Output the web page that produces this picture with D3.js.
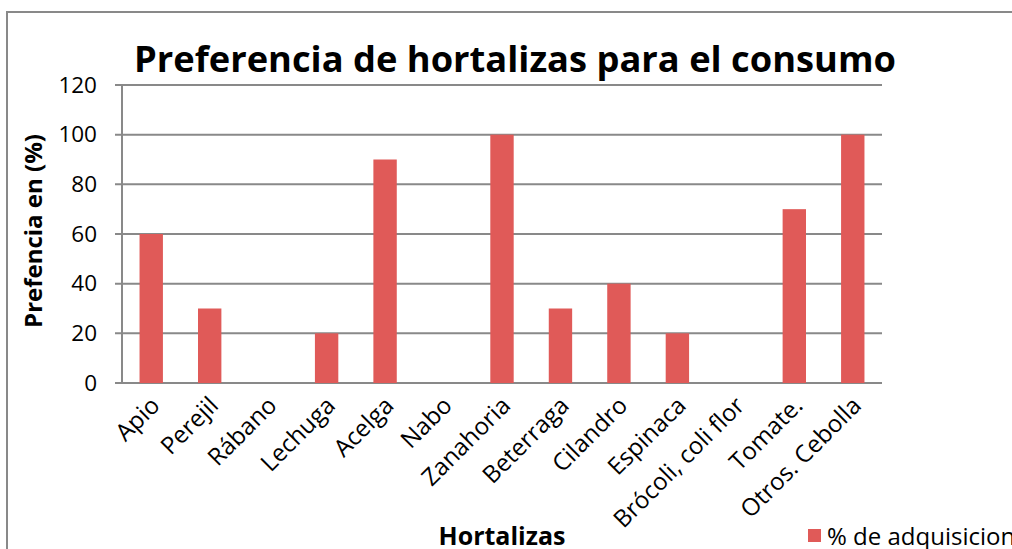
<!DOCTYPE html>
<html>
<head>
<meta charset="utf-8">
<script src="https://cdn.jsdelivr.net/npm/d3@7"></script>
<style>
  body { margin: 0; background: #fff; }
  svg { display: block; font-family: "Open Sans", sans-serif; }
</style>
</head>
<body>
<svg id="chart" width="1012" height="549"></svg>
<script>
const categories = ['Apio', 'Perejil', 'Rábano', 'Lechuga', 'Acelga', 'Nabo', 'Zanahoria',
  'Beterraga', 'Cilandro', 'Espinaca', 'Brócoli, coli flor', 'Tomate.', 'Otros. Cebolla'];
const values = [60, 30, 0, 20, 90, 0, 100, 30, 40, 20, 0, 70, 100];
const yTicks = [0, 20, 40, 60, 80, 100, 120];
const seriesName = '% de adquisicion';

const svg = d3.select('#chart');
const margin = { left: 122, right: 130, top: 85, bottom: 166 };
const width = 1012, height = 549;
const barColor = '#e05a58';
const gridColor = '#898989';

// outer frame
svg.append('rect')
  .attr('x', 7).attr('y', 12)
  .attr('width', width + 20).attr('height', height + 20)
  .attr('fill', 'none').attr('stroke', gridColor).attr('stroke-width', 2);

const x = d3.scaleBand()
  .domain(categories)
  .range([margin.left, width - margin.right])
  .paddingInner(0.6).paddingOuter(0.3);

const y = d3.scaleLinear()
  .domain([0, 120])
  .range([height - margin.bottom, margin.top]);

// gridlines
svg.append('g')
  .selectAll('line')
  .data(yTicks)
  .join('line')
  .attr('x1', margin.left - 7)
  .attr('x2', width - margin.right)
  .attr('y1', d => y(d))
  .attr('y2', d => y(d))
  .attr('stroke', gridColor)
  .attr('stroke-width', 2);

// y axis line
svg.append('line')
  .attr('x1', margin.left).attr('x2', margin.left)
  .attr('y1', y(120)).attr('y2', y(0))
  .attr('stroke', gridColor).attr('stroke-width', 2);

// bars
svg.append('g')
  .selectAll('rect')
  .data(values)
  .join('rect')
  .attr('x', (d, i) => x(categories[i]))
  .attr('y', d => y(d))
  .attr('width', x.bandwidth())
  .attr('height', d => y(0) - y(d))
  .attr('fill', barColor);

// y tick labels
const yAxis = svg.append('g')
  .attr('transform', `translate(${margin.left - 25},0)`)
  .call(d3.axisLeft(y).tickValues(yTicks).tickSize(0).tickPadding(0));
yAxis.select('.domain').remove();
yAxis.selectAll('text')
  .attr('font-size', 22.5)
  .attr('font-family', '"Open Sans", sans-serif')
  .attr('fill', '#000');

// x tick labels
const xAxis = svg.append('g')
  .attr('transform', `translate(0,${y(0)})`)
  .call(d3.axisBottom(x).tickSize(0).tickPadding(0));
xAxis.select('.domain').remove();
xAxis.selectAll('text')
  .attr('font-size', 24)
  .attr('font-family', '"Open Sans", sans-serif')
  .attr('fill', '#000')
  .attr('text-anchor', 'end')
  .attr('dy', 0)
  .attr('transform', 'translate(10,24) rotate(-45)');

// title
svg.append('text')
  .attr('x', 515).attr('y', 72)
  .attr('text-anchor', 'middle')
  .attr('font-size', 35)
  .attr('font-weight', 'bold')
  .attr('textLength', 762)
  .attr('lengthAdjust', 'spacingAndGlyphs')
  .text('Preferencia de hortalizas para el consumo');

// y axis title
svg.append('text')
  .attr('transform', 'translate(42,231) rotate(-90)')
  .attr('text-anchor', 'middle')
  .attr('font-size', 24)
  .attr('font-weight', 'bold')
  .text('Prefencia en (%)');

// x axis title
svg.append('text')
  .attr('x', 502).attr('y', 545)
  .attr('text-anchor', 'middle')
  .attr('font-size', 25)
  .attr('font-weight', 'bold')
  .text('Hortalizas');

// legend
svg.append('rect')
  .attr('x', 808).attr('y', 529)
  .attr('width', 13).attr('height', 13)
  .attr('fill', barColor);
svg.append('text')
  .attr('x', 827).attr('y', 545)
  .attr('font-size', 24)
  .text(seriesName);
</script>
</body>
</html>
